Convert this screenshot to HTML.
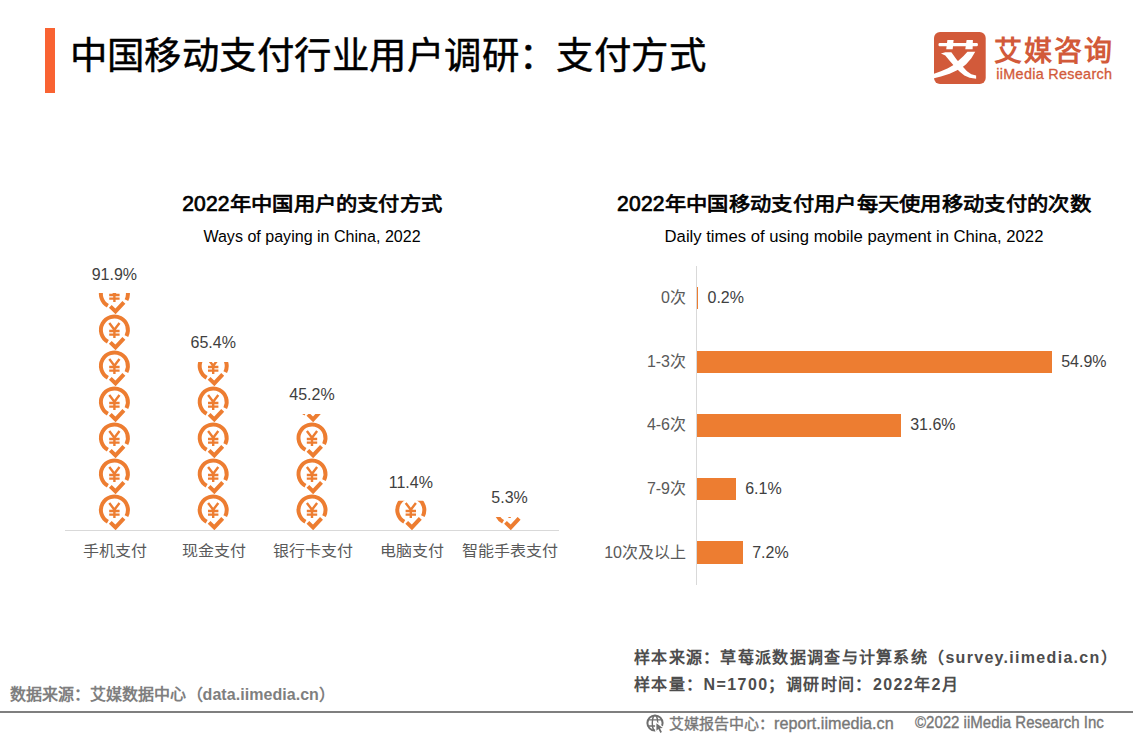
<!DOCTYPE html>
<html lang="zh-CN"><head><meta charset="utf-8"><title>中国移动支付行业用户调研：支付方式</title>
<style>
html,body{margin:0;padding:0;background:#fff}
body{width:1133px;height:737px;position:relative;overflow:hidden;font-family:"Liberation Sans",sans-serif}
.t{position:absolute;white-space:nowrap}
</style></head><body>
<div style="position:absolute;left:45px;top:28px;width:10px;height:65px;background:#F96332"></div>
<svg style="position:absolute;left:934px;top:32px" width="52" height="52" viewBox="0 0 52 52">
<rect x="0" y="0" width="51.7" height="52" rx="6" fill="#D25A3A"/>
<g fill="#fff">
<rect x="4.5" y="11" width="39.4" height="3.3" rx="1.2"/>
<polygon points="13.4,8 19.6,8 18.7,17.2 12.2,17.2"/>
<polygon points="32.6,8 38.9,8 38.6,17.2 31.3,17.2"/>
<polygon points="6.95,21.45 11.29,20.15 17.37,20.15 22.58,27.53 28.66,34.47 33.00,39.25 37.34,42.29 42.12,43.59 42.12,46.63 35.60,45.76 30.39,43.59 26.05,40.12 21.71,35.78 15.63,28.83 11.29,23.62"/>
<polygon points="33.43,19.71 41.25,19.71 37.34,26.22 32.13,32.30 28.66,34.91 22.58,38.38 15.63,41.85 6.95,44.46 0.00,46.20 0.00,41.68 6.95,39.25 13.89,36.21 19.10,33.17 24.31,28.83 29.52,24.05"/>
</g></svg>
<div style="position:absolute;left:65px;top:530px;width:494px;height:1px;background:#D9D9D9"></div>
<svg style="position:absolute;left:0;top:0" width="1133" height="737" viewBox="0 0 1133 737"><defs>
<clipPath id="c0"><rect x="94.4" y="293.0" width="40" height="237.0"/></clipPath>
<clipPath id="c1"><rect x="193.2" y="362.0" width="40" height="168.0"/></clipPath>
<clipPath id="c2"><rect x="292.0" y="414.0" width="40" height="116.0"/></clipPath>
<clipPath id="c3"><rect x="390.8" y="500.7" width="40" height="29.3"/></clipPath>
<clipPath id="c4"><rect x="489.6" y="517.0" width="40" height="13.0"/></clipPath>
</defs>
<g clip-path="url(#c0)"><g transform="translate(114.4,510.0)"><g fill="none" stroke="#ED7D31"><path d="M12.03,6.13A13.5,13.5 0 1 0 -6.54,11.81" stroke-width="4"/><path d="M-4.1,12.4L1.1,17.4L9.5,8.3" stroke-width="4"/><path d="M-5.1,-6.9L0,-0.3L5.1,-6.9M0,-0.3V8M-5.2,1H5.2M-5.2,4.6H5.2" stroke-width="2.4"/></g></g><g transform="translate(114.4,474.0)"><g fill="none" stroke="#ED7D31"><path d="M12.03,6.13A13.5,13.5 0 1 0 -6.54,11.81" stroke-width="4"/><path d="M-4.1,12.4L1.1,17.4L9.5,8.3" stroke-width="4"/><path d="M-5.1,-6.9L0,-0.3L5.1,-6.9M0,-0.3V8M-5.2,1H5.2M-5.2,4.6H5.2" stroke-width="2.4"/></g></g><g transform="translate(114.4,438.0)"><g fill="none" stroke="#ED7D31"><path d="M12.03,6.13A13.5,13.5 0 1 0 -6.54,11.81" stroke-width="4"/><path d="M-4.1,12.4L1.1,17.4L9.5,8.3" stroke-width="4"/><path d="M-5.1,-6.9L0,-0.3L5.1,-6.9M0,-0.3V8M-5.2,1H5.2M-5.2,4.6H5.2" stroke-width="2.4"/></g></g><g transform="translate(114.4,402.0)"><g fill="none" stroke="#ED7D31"><path d="M12.03,6.13A13.5,13.5 0 1 0 -6.54,11.81" stroke-width="4"/><path d="M-4.1,12.4L1.1,17.4L9.5,8.3" stroke-width="4"/><path d="M-5.1,-6.9L0,-0.3L5.1,-6.9M0,-0.3V8M-5.2,1H5.2M-5.2,4.6H5.2" stroke-width="2.4"/></g></g><g transform="translate(114.4,366.0)"><g fill="none" stroke="#ED7D31"><path d="M12.03,6.13A13.5,13.5 0 1 0 -6.54,11.81" stroke-width="4"/><path d="M-4.1,12.4L1.1,17.4L9.5,8.3" stroke-width="4"/><path d="M-5.1,-6.9L0,-0.3L5.1,-6.9M0,-0.3V8M-5.2,1H5.2M-5.2,4.6H5.2" stroke-width="2.4"/></g></g><g transform="translate(114.4,330.0)"><g fill="none" stroke="#ED7D31"><path d="M12.03,6.13A13.5,13.5 0 1 0 -6.54,11.81" stroke-width="4"/><path d="M-4.1,12.4L1.1,17.4L9.5,8.3" stroke-width="4"/><path d="M-5.1,-6.9L0,-0.3L5.1,-6.9M0,-0.3V8M-5.2,1H5.2M-5.2,4.6H5.2" stroke-width="2.4"/></g></g><g transform="translate(114.4,294.0)"><g fill="none" stroke="#ED7D31"><path d="M12.03,6.13A13.5,13.5 0 1 0 -6.54,11.81" stroke-width="4"/><path d="M-4.1,12.4L1.1,17.4L9.5,8.3" stroke-width="4"/><path d="M-5.1,-6.9L0,-0.3L5.1,-6.9M0,-0.3V8M-5.2,1H5.2M-5.2,4.6H5.2" stroke-width="2.4"/></g></g></g>
<g clip-path="url(#c1)"><g transform="translate(213.2,510.0)"><g fill="none" stroke="#ED7D31"><path d="M12.03,6.13A13.5,13.5 0 1 0 -6.54,11.81" stroke-width="4"/><path d="M-4.1,12.4L1.1,17.4L9.5,8.3" stroke-width="4"/><path d="M-5.1,-6.9L0,-0.3L5.1,-6.9M0,-0.3V8M-5.2,1H5.2M-5.2,4.6H5.2" stroke-width="2.4"/></g></g><g transform="translate(213.2,474.0)"><g fill="none" stroke="#ED7D31"><path d="M12.03,6.13A13.5,13.5 0 1 0 -6.54,11.81" stroke-width="4"/><path d="M-4.1,12.4L1.1,17.4L9.5,8.3" stroke-width="4"/><path d="M-5.1,-6.9L0,-0.3L5.1,-6.9M0,-0.3V8M-5.2,1H5.2M-5.2,4.6H5.2" stroke-width="2.4"/></g></g><g transform="translate(213.2,438.0)"><g fill="none" stroke="#ED7D31"><path d="M12.03,6.13A13.5,13.5 0 1 0 -6.54,11.81" stroke-width="4"/><path d="M-4.1,12.4L1.1,17.4L9.5,8.3" stroke-width="4"/><path d="M-5.1,-6.9L0,-0.3L5.1,-6.9M0,-0.3V8M-5.2,1H5.2M-5.2,4.6H5.2" stroke-width="2.4"/></g></g><g transform="translate(213.2,402.0)"><g fill="none" stroke="#ED7D31"><path d="M12.03,6.13A13.5,13.5 0 1 0 -6.54,11.81" stroke-width="4"/><path d="M-4.1,12.4L1.1,17.4L9.5,8.3" stroke-width="4"/><path d="M-5.1,-6.9L0,-0.3L5.1,-6.9M0,-0.3V8M-5.2,1H5.2M-5.2,4.6H5.2" stroke-width="2.4"/></g></g><g transform="translate(213.2,366.0)"><g fill="none" stroke="#ED7D31"><path d="M12.03,6.13A13.5,13.5 0 1 0 -6.54,11.81" stroke-width="4"/><path d="M-4.1,12.4L1.1,17.4L9.5,8.3" stroke-width="4"/><path d="M-5.1,-6.9L0,-0.3L5.1,-6.9M0,-0.3V8M-5.2,1H5.2M-5.2,4.6H5.2" stroke-width="2.4"/></g></g></g>
<g clip-path="url(#c2)"><g transform="translate(312.0,510.0)"><g fill="none" stroke="#ED7D31"><path d="M12.03,6.13A13.5,13.5 0 1 0 -6.54,11.81" stroke-width="4"/><path d="M-4.1,12.4L1.1,17.4L9.5,8.3" stroke-width="4"/><path d="M-5.1,-6.9L0,-0.3L5.1,-6.9M0,-0.3V8M-5.2,1H5.2M-5.2,4.6H5.2" stroke-width="2.4"/></g></g><g transform="translate(312.0,474.0)"><g fill="none" stroke="#ED7D31"><path d="M12.03,6.13A13.5,13.5 0 1 0 -6.54,11.81" stroke-width="4"/><path d="M-4.1,12.4L1.1,17.4L9.5,8.3" stroke-width="4"/><path d="M-5.1,-6.9L0,-0.3L5.1,-6.9M0,-0.3V8M-5.2,1H5.2M-5.2,4.6H5.2" stroke-width="2.4"/></g></g><g transform="translate(312.0,438.0)"><g fill="none" stroke="#ED7D31"><path d="M12.03,6.13A13.5,13.5 0 1 0 -6.54,11.81" stroke-width="4"/><path d="M-4.1,12.4L1.1,17.4L9.5,8.3" stroke-width="4"/><path d="M-5.1,-6.9L0,-0.3L5.1,-6.9M0,-0.3V8M-5.2,1H5.2M-5.2,4.6H5.2" stroke-width="2.4"/></g></g><g transform="translate(312.0,402.0)"><g fill="none" stroke="#ED7D31"><path d="M12.03,6.13A13.5,13.5 0 1 0 -6.54,11.81" stroke-width="4"/><path d="M-4.1,12.4L1.1,17.4L9.5,8.3" stroke-width="4"/><path d="M-5.1,-6.9L0,-0.3L5.1,-6.9M0,-0.3V8M-5.2,1H5.2M-5.2,4.6H5.2" stroke-width="2.4"/></g></g></g>
<g clip-path="url(#c3)"><g transform="translate(410.8,510.0)"><g fill="none" stroke="#ED7D31"><path d="M12.03,6.13A13.5,13.5 0 1 0 -6.54,11.81" stroke-width="4"/><path d="M-4.1,12.4L1.1,17.4L9.5,8.3" stroke-width="4"/><path d="M-5.1,-6.9L0,-0.3L5.1,-6.9M0,-0.3V8M-5.2,1H5.2M-5.2,4.6H5.2" stroke-width="2.4"/></g></g></g>
<g clip-path="url(#c4)"><g transform="translate(509.6,510.0)"><g fill="none" stroke="#ED7D31"><path d="M12.03,6.13A13.5,13.5 0 1 0 -6.54,11.81" stroke-width="4"/><path d="M-4.1,12.4L1.1,17.4L9.5,8.3" stroke-width="4"/><path d="M-5.1,-6.9L0,-0.3L5.1,-6.9M0,-0.3V8M-5.2,1H5.2M-5.2,4.6H5.2" stroke-width="2.4"/></g></g></g>
</svg>
<div style="position:absolute;left:696px;top:266px;width:1px;height:319px;background:#D9D9D9"></div>
<div style="position:absolute;left:697.0px;top:287px;width:1.3px;height:22px;background:#ED7D31"></div><div style="position:absolute;left:697.0px;top:351px;width:355.0px;height:22px;background:#ED7D31"></div><div style="position:absolute;left:697.0px;top:414px;width:204.0px;height:23px;background:#ED7D31"></div><div style="position:absolute;left:697.0px;top:478px;width:39.0px;height:22px;background:#ED7D31"></div><div style="position:absolute;left:697.0px;top:541px;width:46.0px;height:23px;background:#ED7D31"></div>
<div style="position:absolute;left:0;top:711px;width:1133px;height:2px;background:#7F7F7F"></div>
<svg style="position:absolute;left:646.4px;top:713.8px" width="20" height="20" viewBox="0 0 20 20" fill="none" stroke="#6e6e6e">
<circle cx="9" cy="9" r="7.6" stroke-width="2"/><ellipse cx="9" cy="9" rx="2.7" ry="7.6" stroke-width="1.4"/><path d="M2,5.9H16M2,12H16" stroke-width="1.4"/>
<path d="M10.4,9.2V16.8L12.4,15L14.4,18.9L15.9,18.1L14,14.3L16.8,14Z" fill="#6e6e6e" stroke="#fff" stroke-width="2.6" stroke-linejoin="round"/>
<path d="M10.4,9.2V16.8L12.4,15L14.4,18.9L15.9,18.1L14,14.3L16.8,14Z" fill="#6e6e6e" stroke="none"/>
</svg>
<div class="t" style="left:69.6px;top:37.6px;font-size:37.4px;line-height:37.4px;color:#000;font-weight:400;letter-spacing:0.45px;-webkit-text-stroke:0.45px #000;">中国移动支付行业用户调研：支付方式</div>
<div class="t" style="left:993.6px;top:38.4px;font-size:28px;line-height:28px;color:#D25A3A;font-weight:700;letter-spacing:2.3px;">艾媒咨询</div>
<div class="t" style="left:996.3px;top:67px;font-size:14.4px;line-height:14.4px;color:#D25A3A;font-weight:400;letter-spacing:0.3px;-webkit-text-stroke:0.3px #D25A3A;">iiMedia Research</div>
<div class="t" style="left:312.2px;top:194.4px;font-size:21.33px;line-height:21.33px;color:#000;font-weight:400;transform:translateX(-50%) scale(1.0,0.92);transform-origin:center top;letter-spacing:0.2px;-webkit-text-stroke:0.8px #000;"><span style="display:inline-block;font-size:24.5px;transform:scaleX(0.86);transform-origin:left;margin-right:-7.6px;-webkit-text-stroke:0.8px #000">2022</span>年中国用户的支付方式</div>
<div class="t" style="left:312.3px;top:228.8px;font-size:16.8px;line-height:16.8px;color:#000;font-weight:400;transform:translateX(-50%) scale(0.957,1.0);transform-origin:center top;">Ways of paying in China, 2022</div>
<div class="t" style="left:853.8px;top:194.4px;font-size:21.33px;line-height:21.33px;color:#000;font-weight:400;transform:translateX(-50%) scale(1.0,0.92);transform-origin:center top;letter-spacing:0.3px;-webkit-text-stroke:0.8px #000;"><span style="display:inline-block;font-size:24.5px;transform:scaleX(0.86);transform-origin:left;margin-right:-7.6px;-webkit-text-stroke:0.8px #000">2022</span>年中国移动支付用户每天使用移动支付的次数</div>
<div class="t" style="left:853.8px;top:228.8px;font-size:16.8px;line-height:16.8px;color:#000;font-weight:400;transform:translateX(-50%) scale(0.993,1.0);transform-origin:center top;">Daily times of using mobile payment in China, 2022</div>
<div class="t" style="left:114.4px;top:267.0px;font-size:16px;line-height:16px;color:#404040;font-weight:400;transform:translateX(-50%);transform-origin:center top;">91.9%</div>
<div class="t" style="left:115.10000000000001px;top:544.2px;font-size:16px;line-height:16px;color:#595959;font-weight:400;transform:translateX(-50%) scale(1.0,0.95);transform-origin:center top;">手机支付</div>
<div class="t" style="left:213.2px;top:335.0px;font-size:16px;line-height:16px;color:#404040;font-weight:400;transform:translateX(-50%);transform-origin:center top;">65.4%</div>
<div class="t" style="left:213.89999999999998px;top:544.2px;font-size:16px;line-height:16px;color:#595959;font-weight:400;transform:translateX(-50%) scale(1.0,0.95);transform-origin:center top;">现金支付</div>
<div class="t" style="left:312.0px;top:387.4px;font-size:16px;line-height:16px;color:#404040;font-weight:400;transform:translateX(-50%);transform-origin:center top;">45.2%</div>
<div class="t" style="left:312.7px;top:544.2px;font-size:16px;line-height:16px;color:#595959;font-weight:400;transform:translateX(-50%) scale(1.0,0.95);transform-origin:center top;">银行卡支付</div>
<div class="t" style="left:410.8px;top:475.0px;font-size:16px;line-height:16px;color:#404040;font-weight:400;transform:translateX(-50%);transform-origin:center top;">11.4%</div>
<div class="t" style="left:411.5px;top:544.2px;font-size:16px;line-height:16px;color:#595959;font-weight:400;transform:translateX(-50%) scale(1.0,0.95);transform-origin:center top;">电脑支付</div>
<div class="t" style="left:509.59999999999997px;top:490.0px;font-size:16px;line-height:16px;color:#404040;font-weight:400;transform:translateX(-50%);transform-origin:center top;">5.3%</div>
<div class="t" style="left:510.29999999999995px;top:544.2px;font-size:16px;line-height:16px;color:#595959;font-weight:400;transform:translateX(-50%) scale(1.0,0.95);transform-origin:center top;">智能手表支付</div>
<div class="t" style="left:686px;top:290px;font-size:16px;line-height:16px;color:#595959;font-weight:400;transform:translateX(-100%);transform-origin:right top;">0次</div>
<div class="t" style="left:707.5px;top:290px;font-size:16px;line-height:16px;color:#404040;font-weight:400;">0.2%</div>
<div class="t" style="left:686px;top:354px;font-size:16px;line-height:16px;color:#595959;font-weight:400;transform:translateX(-100%);transform-origin:right top;">1-3次</div>
<div class="t" style="left:1061.2px;top:354px;font-size:16px;line-height:16px;color:#404040;font-weight:400;">54.9%</div>
<div class="t" style="left:686px;top:417px;font-size:16px;line-height:16px;color:#595959;font-weight:400;transform:translateX(-100%);transform-origin:right top;">4-6次</div>
<div class="t" style="left:910.2px;top:417px;font-size:16px;line-height:16px;color:#404040;font-weight:400;">31.6%</div>
<div class="t" style="left:686px;top:481px;font-size:16px;line-height:16px;color:#595959;font-weight:400;transform:translateX(-100%);transform-origin:right top;">7-9次</div>
<div class="t" style="left:745.2px;top:481px;font-size:16px;line-height:16px;color:#404040;font-weight:400;">6.1%</div>
<div class="t" style="left:686px;top:545px;font-size:16px;line-height:16px;color:#595959;font-weight:400;transform:translateX(-100%);transform-origin:right top;">10次及以上</div>
<div class="t" style="left:752.2px;top:545px;font-size:16px;line-height:16px;color:#404040;font-weight:400;">7.2%</div>
<div class="t" style="left:10px;top:687.2px;font-size:16px;line-height:16px;color:#7F7F7F;font-weight:700;letter-spacing:0.05px;">数据来源：艾媒数据中心（data.iimedia.cn）</div>
<div class="t" style="left:634px;top:649.8px;font-size:16px;line-height:16px;color:#4d4d4d;font-weight:700;letter-spacing:1.3px;">样本来源：草莓派数据调查与计算系统（survey.iimedia.cn）</div>
<div class="t" style="left:634px;top:677.3px;font-size:16px;line-height:16px;color:#4d4d4d;font-weight:700;letter-spacing:1.4px;">样本量：N=1700；调研时间：2022年2月</div>
<div class="t" style="left:669px;top:716.2px;font-size:15px;line-height:15px;color:#777;font-weight:400;-webkit-text-stroke:0.35px #777;">艾媒报告中心：<span style="font-size:16.2px">report.iimedia.cn</span></div>
<div class="t" style="left:915.3px;top:714.6px;font-size:16px;line-height:16px;color:#777;font-weight:400;transform:scale(0.938,1.0);transform-origin:left top;-webkit-text-stroke:0.35px #777;">©2022 iiMedia Research Inc</div>
</body></html>
